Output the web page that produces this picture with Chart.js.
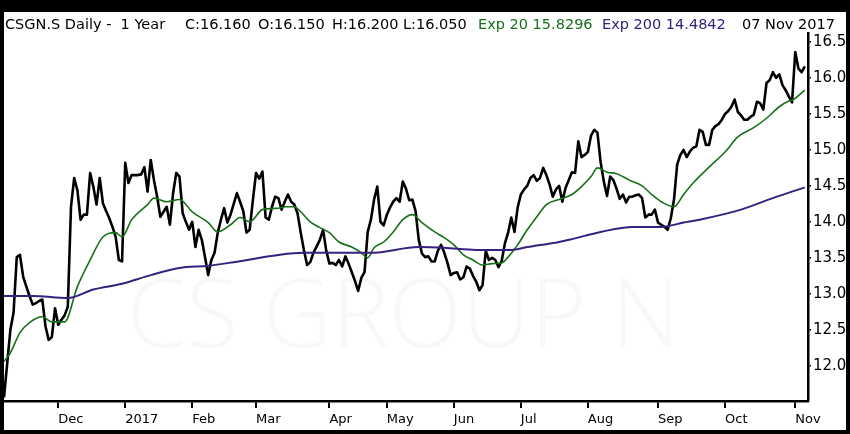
<!DOCTYPE html>
<html>
<head>
<meta charset="utf-8">
<script src="https://cdn.jsdelivr.net/npm/chart.js@4/dist/chart.umd.min.js"></script>
<style>
html, body { margin: 0; padding: 0; background: #000; }
#contenedor { width: 850px; height: 434px; }
</style>
</head>
<body>
<div id="contenedor"><canvas id="graficoCsgn" width="850" height="434"></canvas></div>
<script>
// cierres diarios (un valor por sesion, nov 2016 - nov 2017)
const cierres = [
  11.56, 12.03, 12.5, 12.74, 13.51, 13.54, 13.24, 13.1, 12.97, 12.85,
  12.87, 12.9, 12.92, 12.55, 12.36, 12.40, 12.80, 12.57, 12.64, 12.70,
  12.82, 14.21, 14.61, 14.44, 14.03, 14.1, 14.1, 14.68, 14.49, 14.24,
  14.61, 14.26, 14.15, 14.05, 13.93, 13.79, 13.47, 13.45, 14.82, 14.54,
  14.65, 14.65, 14.65, 14.66, 14.76, 14.42, 14.86, 14.58, 14.35, 14.07,
  14.14, 14.21, 13.96, 14.4, 14.68, 14.63, 14.12, 14.0, 13.89, 14.0,
  13.65, 13.89, 13.75, 13.51, 13.26, 13.47, 13.57, 13.85, 14.03, 14.19,
  13.99, 14.1, 14.25, 14.4, 14.28, 14.15, 13.85, 13.89, 14.3, 14.68,
  14.6, 14.7, 14.06, 14.03, 14.21, 14.35, 14.33, 14.17, 14.28, 14.38,
  14.28, 14.24, 14.12, 13.85, 13.61, 13.40, 13.44, 13.57, 13.66, 13.75,
  13.89, 13.6, 13.42, 13.43, 13.40, 13.47, 13.38, 13.52, 13.42, 13.3,
  13.18, 13.04, 13.22, 13.3, 13.86, 14.03, 14.31, 14.49, 14.0, 13.95,
  14.1, 14.2, 14.28, 14.33, 14.28, 14.56, 14.46, 14.3, 14.31, 14.15,
  13.75, 13.56, 13.51, 13.52, 13.45, 13.45, 13.6, 13.68, 13.57, 13.43,
  13.26, 13.29, 13.3, 13.2, 13.23, 13.38, 13.35, 13.25, 13.17, 13.05,
  13.12, 13.6, 13.47, 13.5, 13.47, 13.37, 13.46, 13.7, 13.85, 14.06,
  13.86, 14.2, 14.38, 14.45, 14.5, 14.61, 14.65, 14.57, 14.61, 14.75,
  14.65, 14.52, 14.35, 14.45, 14.5, 14.28, 14.47, 14.58, 14.69, 14.68,
  15.12, 14.9, 14.93, 14.97, 15.2, 15.28, 15.24, 14.83, 14.56, 14.36,
  14.63, 14.58, 14.46, 14.32, 14.38, 14.27, 14.35, 14.35, 14.37, 14.38,
  14.33, 14.06, 14.1, 14.1, 14.17, 13.99, 13.96, 13.93, 13.89, 14.05,
  14.31, 14.8, 14.93, 15.0, 14.9, 14.98, 15.03, 15.05, 15.28, 15.25,
  15.07, 15.07, 15.28, 15.33, 15.36, 15.42, 15.5, 15.54, 15.6, 15.7,
  15.53, 15.48, 15.42, 15.42, 15.46, 15.49, 15.67, 15.65, 15.56, 15.93,
  15.97, 16.08, 16.0, 16.05, 15.9, 15.83, 15.74, 15.66, 16.36, 16.13,
  16.08, 16.16
];

const exp20Sesiones = [0, 2, 5, 8, 12, 15, 19, 23, 27, 31, 35, 37, 40, 45, 47, 51, 55, 59, 64, 67,
  71, 74, 77, 81, 86, 88, 91, 93, 96, 99, 102, 105, 109, 112, 114, 116, 119, 122, 125, 128,
  131, 135, 138, 141, 144, 147, 150, 153, 156, 158, 161, 164, 167, 170, 174, 178, 181, 184, 186, 189,
  192, 196, 200, 203, 206, 210, 213, 216, 221, 226, 230, 235, 239, 243, 246, 247, 251];
const exp20Valores = [12.06, 12.18, 12.46, 12.6, 12.68, 12.61, 12.61, 13.1, 13.47, 13.79, 13.85, 13.79, 14.03, 14.24, 14.33, 14.28, 14.31, 14.14, 13.99, 13.86,
  13.96, 14.06, 14.0, 14.17, 14.19, 14.21, 14.21, 14.14, 14.0, 13.92, 13.85, 13.72, 13.65, 13.57, 13.50, 13.64, 13.72, 13.86, 14.03, 14.1,
  13.99, 13.86, 13.78, 13.68, 13.54, 13.47, 13.40, 13.42, 13.43, 13.51, 13.68, 13.89, 14.07, 14.24, 14.31, 14.38, 14.49, 14.63, 14.75, 14.69,
  14.67, 14.58, 14.50, 14.38, 14.28, 14.21, 14.38, 14.54, 14.76, 14.97, 15.18, 15.31, 15.44, 15.60, 15.68, 15.69, 15.83];

// media exponencial 200
const exp200Sesiones = [0, 9, 20, 28, 37, 46, 55, 64, 72, 86, 94, 104, 115, 130, 138, 148, 159, 164, 174, 178, 187, 197, 206, 213, 218, 231, 241, 251];
const exp200Valores = [12.97, 12.97, 12.94, 13.06, 13.14, 13.26, 13.36, 13.39, 13.44, 13.54, 13.57, 13.57, 13.57, 13.65, 13.64, 13.61, 13.61, 13.65, 13.72, 13.76, 13.86, 13.93, 13.93, 13.99, 14.03, 14.17, 14.33, 14.48];

// inicio de cada mes (sesion) y su etiqueta
const mesesSesion = [17, 38, 59, 79, 102, 120, 141, 162, 183, 205, 226, 248];
const mesesEtiqueta = ["Dec", "2017", "Feb", "Mar", "Apr", "May", "Jun", "Jul", "Aug", "Sep", "Oct", "Nov"];
const preciosEje = [12.0, 12.5, 13.0, 13.5, 14.0, 14.5, 15.0, 15.5, 16.0, 16.5];

const colorVerde = "#17701a";
const colorMorado = "#37207f";
/////////////////////////////////////////////////////////////////////////////////////

function aPuntos(xs, ys) {
  return xs.map((x, i) => ({ x: x, y: ys[i] }));
}

const marcoYTitulo = {
  id: "marcoYTitulo",
  beforeDraw(chart) {
    const ctx = chart.ctx;
    ctx.save();
    ctx.fillStyle = "#000";
    ctx.fillRect(0, 0, chart.width, chart.height);
    ctx.fillStyle = "#fff";
    ctx.fillRect(4, 12, chart.width - 8, chart.height - 16);
    ctx.restore();
  },
  beforeDatasetsDraw(chart) {
    // marca de agua
    const ctx = chart.ctx;
    ctx.save();
    ctx.font = "300 100px 'Open Sans'";
    const w = ctx.measureText("CS GROUP N").width;
    const size = 100 * 553 / w;
    ctx.font = "300 " + size + "px 'Open Sans'";
    ctx.fillStyle = "#f8f8f8";
    ctx.textBaseline = "alphabetic";
    ctx.fillText("CS GROUP N", 127, 347);
    ctx.restore();
  },
  afterDraw(chart) {
    const ctx = chart.ctx;
    const partes = [
      { t: "CSGN.S Daily -  1 Year", x: 5, c: "#000" },
      { t: "C:16.160", x: 185, c: "#000" },
      { t: "O:16.150", x: 258, c: "#000" },
      { t: "H:16.200", x: 332, c: "#000" },
      { t: "L:16.050", x: 403, c: "#000" },
      { t: "Exp 20 15.8296", x: 478, c: colorVerde },
      { t: "Exp 200 14.4842", x: 602, c: colorMorado },
      { t: "07 Nov 2017", x: 742, c: "#000" }
    ];
    ctx.save();
    ctx.font = "14.5px 'DejaVu Sans'";
    ctx.textBaseline = "alphabetic";
    ctx.textAlign = "left";
    partes.forEach((p) => {
      ctx.fillStyle = p.c;
      ctx.fillText(p.t, p.x, 29);
    });
    ctx.restore();
  }
};

const config = {
  type: "line",
  data: {
    datasets: [
      {
        label: "Exp 200",
        data: aPuntos(exp200Sesiones, exp200Valores),
        borderColor: colorMorado,
        borderWidth: 2,
        pointRadius: 0,
        cubicInterpolationMode: "monotone"
      },
      {
        label: "Exp 20",
        data: aPuntos(exp20Sesiones, exp20Valores),
        borderColor: colorVerde,
        borderWidth: 1.6,
        pointRadius: 0,
        cubicInterpolationMode: "monotone"
      },
      {
        label: "CSGN.S",
        data: cierres.map((v, i) => ({ x: i, y: v })),
        borderColor: "#000",
        borderWidth: 2.6,
        pointRadius: 0,
        tension: 0,
        borderJoinStyle: "round"
      }
    ]
  },
  options: {
    responsive: false,
    animation: false,
    layout: { padding: { left: 4, right: 4, top: 33, bottom: 4 } },
    plugins: { legend: { display: false }, tooltip: { enabled: false } },
    scales: {
      x: {
        type: "linear",
        min: 0,
        max: 252,
        afterBuildTicks: (s) => { s.ticks = mesesSesion.map((v) => ({ value: v })); },
        afterFit: (s) => { s.height = 29; },
        ticks: {
          autoSkip: false,
          maxRotation: 0,
          align: "start",
          padding: 4,
          color: "#000",
          font: { family: "DejaVu Sans", size: 13 },
          callback: (v) => mesesEtiqueta[mesesSesion.indexOf(v)]
        },
        grid: { drawOnChartArea: false, drawTicks: true, tickLength: 7, color: "#000", lineWidth: 2 },
        border: { display: true, color: "#000", width: 2.5 }
      },
      y: {
        position: "right",
        min: 11.51,
        max: 16.625,
        afterBuildTicks: (s) => { s.ticks = preciosEje.map((v) => ({ value: v })); },
        afterFit: (s) => { s.width = 38; },
        ticks: {
          padding: 2,
          color: "#000",
          font: { family: "DejaVu Sans", size: 15 },
          callback: (v) => Number(v).toFixed(1)
        },
        grid: { drawOnChartArea: false, drawTicks: true, tickLength: 3, color: "#000", lineWidth: 1.5 },
        border: { display: true, color: "#000", width: 2.5 }
      }
    }
  },
  plugins: [marcoYTitulo]
};

new Chart(document.getElementById("graficoCsgn"), config);
</script>
</body>
</html>
